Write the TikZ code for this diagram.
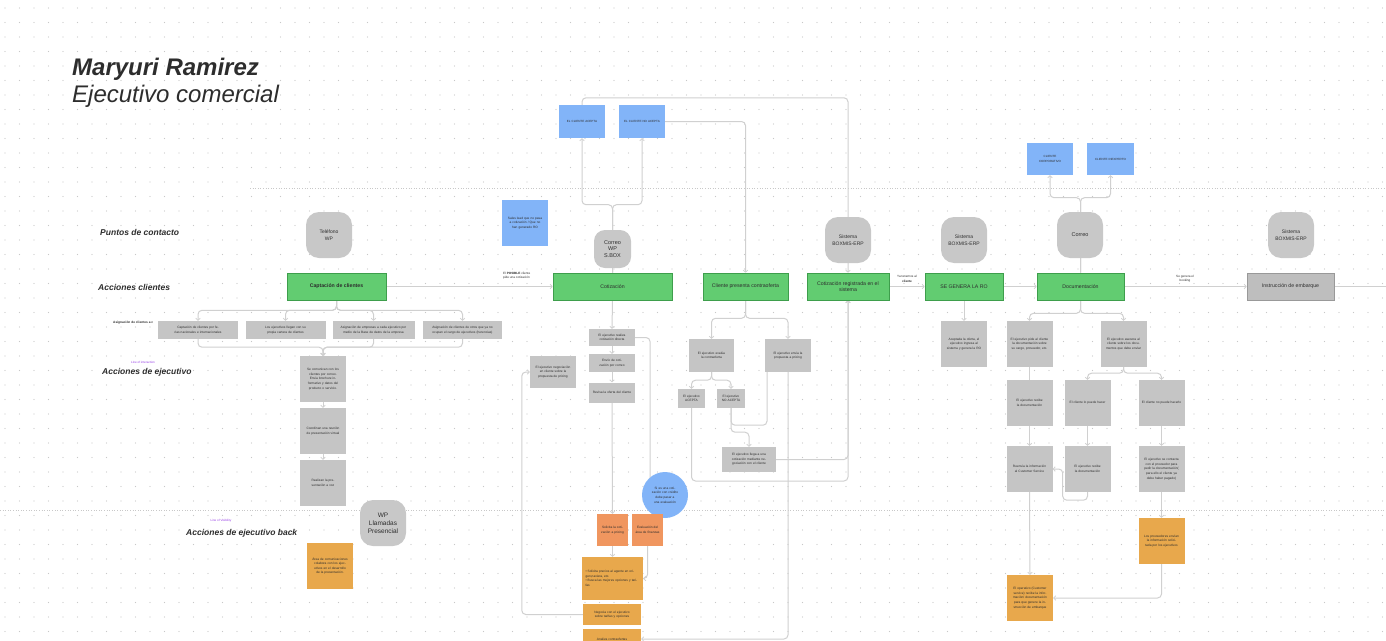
\documentclass[tikz,border=0pt]{standalone}
\usepackage{fontspec}
\setmainfont{Liberation Sans}
\usetikzlibrary{arrows.meta}
\pgfdeclarelayer{gridlayer}
\pgfdeclarelayer{linelayer}
\pgfsetlayers{gridlayer,linelayer,main}
\definecolor{boxgray}{RGB}{197,197,197}
\definecolor{roundgray}{RGB}{200,200,200}
\definecolor{instgray}{RGB}{190,190,190}
\definecolor{boxgreen}{RGB}{98,204,113}
\definecolor{greenborder}{RGB}{62,158,76}
\definecolor{boxblue}{RGB}{130,180,248}
\definecolor{boxorange}{RGB}{232,168,76}
\definecolor{boxsalmon}{RGB}{240,150,95}
\definecolor{linec}{RGB}{208,208,208}
\definecolor{dotc}{RGB}{200,200,200}
\definecolor{txt}{RGB}{45,45,45}
\definecolor{lblpurple}{RGB}{150,60,230}
\newcommand{\myfs}[2]{\fontsize{#1}{#2}\selectfont}
\tikzset{
  base/.style={inner sep=1pt, align=center, text=txt},
  gbox/.style={base, fill=boxgray, minimum width=46pt, minimum height=46pt, text width=40pt, font=\myfs{3.2}{4.6}},
  obox/.style={gbox, fill=boxorange},
  sbox/.style={gbox, fill=boxsalmon},
  bbox/.style={gbox, fill=boxblue},
  rbox/.style={base, fill=roundgray, rounded corners=13pt, minimum width=46pt, minimum height=46pt, font=\myfs{5}{6.5}},
  gnode/.style={base, fill=boxgreen, draw=greenborder, line width=0.6pt, minimum height=27pt, font=\myfs{5.2}{6.5}},
  rowlbl/.style={anchor=west, inner sep=0pt, text=txt, font=\myfs{8.5}{10}\bfseries\itshape},
  purplbl/.style={inner sep=0pt, text=lblpurple, font=\myfs{3}{4}},
  edgelbl/.style={inner sep=0pt, align=center, text=txt, font=\myfs{3.1}{4.3}},
  conn/.style={draw=linec, line width=1pt, rounded corners=4pt},
  arr/.style={conn, -{Straight Barb[length=2pt,width=4.5pt,line width=0.8pt]}},
  sepline/.style={draw=dotc, line width=0.6pt, dotted}
}
\begin{document}
\begin{tikzpicture}[x=1pt,y=-1pt]
\useasboundingbox (0,0) rectangle (1386,640);
\begin{pgfonlayer}{gridlayer}
\fill[white] (0,0) rectangle (1386,640);
\foreach \i in {0,...,95} \foreach \j in {0,...,43} \fill[dotc] (5+\i*14.5, 8+\j*14.5) circle (0.55pt);
\draw[sepline] (250,188) -- (1386,188);
\draw[sepline] (0,510) -- (1386,510);
\end{pgfonlayer}

% titles
\node[anchor=base west, inner sep=0pt, text=txt, font=\myfs{24}{28}\bfseries\itshape] (title) at (72,75) {Maryuri Ramirez};
\node[anchor=base west, inner sep=0pt, text=txt, font=\myfs{24}{28}\itshape] (subtitle) at (72,102) {Ejecutivo comercial};

% row labels
\node[rowlbl] (lp) at (100,232) {Puntos de contacto};
\node[rowlbl] (lc) at (98,287) {Acciones clientes};
\node[purplbl] (li) at (143,362) {Line of interaction};
\node[rowlbl] (le) at (102,372) {Acciones de ejecutivo};
\node[purplbl] (lv) at (221,521) {Line of Visibility};
\node[rowlbl] (lb) at (186,533) {Acciones de ejecutivo back};
\node[anchor=west, inner sep=0pt, text=txt, font=\myfs{3.2}{4}\bfseries] (lasig) at (113,323) {Asignación de clientes a c};

% left section
\node[rbox] (tel) at (329,235) {Teléfono\\WP};
\node[gnode, minimum width=99pt, font=\myfs{5.2}{6.5}\bfseries] (capt) at (336.5,286.5) {Captación de clientes};
\node[gbox, minimum width=80pt, minimum height=18pt, text width=74pt] (a1) at (198,330) {Captación de clientes por ferias nacionales e internacionales};
\node[gbox, minimum width=80pt, minimum height=18pt, text width=74pt] (a2) at (285.5,330) {Los ejecutivos llegan con su propia cartera de clientes};
\node[gbox, minimum width=82pt, minimum height=18pt, text width=76pt] (a3) at (373.5,330) {Asignación de empresas a cada ejecutivo por medio de la Base de datos de la empresa};
\node[gbox, minimum width=79pt, minimum height=18pt, text width=74pt] (a4) at (462.5,330) {Asignación de clientes de otros que ya no ocupan el cargo de ejecutivos (herencias)};
\node[gbox] (e1) at (323,379) {Se comunican con los clientes por correo. Envía brochure informativo y datos del producto o servicio.};
\node[gbox] (e2) at (323,431) {Coordinan una reunión de presentación virtual};
\node[gbox] (e3) at (323,483) {Realizan la presentación a voz};
\node[rbox, font=\myfs{6.5}{8}] (wp) at (383,523) {WP\\Llamadas\\Presencial};
\node[obox] (back1) at (330,566) {Área de comunicaciones colabora con los ejecutivos en el desarrollo de la presentación.};

% middle section
\node[bbox] (sales) at (525,223) {Sales lead que no pasa a cotización / Que no han generado RO};
\node[bbox, minimum height=33pt, font=\myfs{3}{4.4}] (acepta) at (582,121.5) {EL CLIENTE ACEPTA};
\node[bbox, minimum height=33pt, font=\myfs{3}{4.4}] (noacepta) at (642,121.5) {EL CLIENTE NO ACEPTA};
\node[rbox, minimum width=37pt, minimum height=38pt, rounded corners=11pt, font=\myfs{5.5}{6.8}] (correo1) at (612.5,249) {Correo\\WP\\S.BOX};
\node[gnode, minimum width=119pt] (cot) at (612.5,286.5) {Cotización};
\node[gnode, minimum width=85pt] (contra) at (745.5,286.5) {Cliente presenta contraoferta};
\node[edgelbl, anchor=west, align=left] (lposible) at (503,276) {El \textbf{POSIBLE} cliente\\pide una cotización};
\node[gbox, minimum height=17pt] (r1) at (612,337.5) {El ejecutivo realiza cotización directa};
\node[gbox, minimum height=18pt] (r2) at (612,363) {Envío de cotización por correo};
\node[gbox, minimum height=20pt] (r3) at (612,392.5) {Revisa la oferta del cliente};
\node[gbox, minimum height=32pt] (neg) at (553,372) {El ejecutivo negociación en cliente sobre la propuesta de pricing};
\node[base, circle, fill=boxblue, minimum size=46pt, text width=30pt, font=\myfs{3.2}{4.6}] (circ) at (665,495) {Si es una cotización con crédito debe pasar a una evaluación};
\node[sbox, minimum width=31pt, minimum height=32pt, text width=27pt] (sol) at (612.5,530) {Solicita la cotización a pricing};
\node[sbox, minimum width=31pt, minimum height=32pt, text width=27pt] (eva) at (647.5,530) {Evaluación del área de finanzas};
\node[obox, minimum width=61pt, minimum height=43pt, text width=54pt, align=left] (big) at (612.5,578.5) {\textbullet\ Solicita precios al agente en origen,naviera, etc.\\ \textbullet\ Busca las mejores opciones y tarifas};
\node[obox, minimum width=58pt, minimum height=21pt, text width=52pt] (negocia) at (612,614.5) {Negocia con el ejecutivo sobre tarifas y opciones};
\node[obox, minimum width=58pt, minimum height=20pt, text width=52pt] (analiza) at (612,639) {Analiza contraofertas};
\node[gbox, minimum width=45pt, minimum height=33pt] (ev) at (711.5,355.5) {El ejecutivo evalúa la contraoferta};
\node[gbox, minimum height=33pt] (envia) at (788,355.5) {El ejecutivo envía la propuesta a pricing};
\node[gbox, minimum width=27pt, minimum height=19pt, text width=24pt] (acep2) at (691.5,398.5) {El ejecutivo ACEPTA};
\node[gbox, minimum width=28pt, minimum height=19pt, text width=25pt] (noacep2) at (731,398.5) {El ejecutivo NO ACEPTA};
\node[gbox, minimum width=54pt, minimum height=25pt, text width=48pt] (llega) at (749,459.5) {El ejecutivo llega a una cotización mediante negociación con el cliente};

% right section
\node[rbox] (sis1) at (848,240) {Sistema\\BOXMIS-ERP};
\node[gnode, minimum width=82pt] (creg) at (848,286.5) {Cotización registrada en el\\sistema};
\node[edgelbl] (ltenemos) at (907,279) {Ya tenemos al\\\textbf{cliente}};
\node[rbox] (sis2) at (964,240) {Sistema\\BOXMIS-ERP};
\node[gnode, minimum width=78pt] (ro) at (964,286.5) {SE GENERA LA RO};
\node[gbox] (acept) at (964,344) {Aceptada la oferta, el ejecutivo ingresa al sistema y genera la RO};
\node[rbox, font=\myfs{5.5}{6.5}] (correo2) at (1080,235) {Correo};
\node[gnode, minimum width=87pt] (doc) at (1080.5,286.5) {Documentación};
\node[bbox, minimum height=32pt, font=\myfs{3}{4.4}] (corp) at (1050,159) {CLIENTE\\CORPORATIVO};
\node[bbox, minimum width=47pt, minimum height=32pt, font=\myfs{3}{4.4}] (inexp) at (1110.5,159) {CLIENTE INEXPERTO};
\node[edgelbl] (lbooking) at (1185,279) {Se genera el\\booking};
\node[rbox] (sis3) at (1291,235) {Sistema\\BOXMIS-ERP};
\node[base, fill=instgray, draw=gray!80, line width=0.6pt, minimum width=87pt, minimum height=27pt, font=\myfs{5.2}{6.5}] (inst) at (1290.5,286.5) {Instrucción de embarque};
\coordinate (instout) at (1386,286.5);
\node[gbox] (d1) at (1029.5,344) {El ejecutivo pide al cliente la documentación sobre su cargo, proveedor, etc.};
\node[gbox] (d2) at (1123.5,344) {El ejecutivo asesora al cliente sobre los documentos que debe enviar};
\node[gbox] (d3) at (1029.5,403) {El ejecutivo recibe la documentación};
\node[gbox] (d4) at (1087.5,403) {El cliente lo puede hacer};
\node[gbox] (d5) at (1161.5,403) {El cliente no puede hacerlo};
\node[gbox] (d6) at (1029.5,469) {Reenvía la información al Customer Service};
\node[gbox] (d7) at (1087.5,469) {El ejecutivo recibe la documentación};
\node[gbox] (d8) at (1161.5,469) {El ejecutivo se contacta con el proveedor para pedir la documentación( para ello el cliente ya debe haber pagado)};
\node[obox] (o1) at (1161.5,541) {Los proveedores envían la información solicitada por los ejecutivos};
\node[obox] (o2) at (1030,598) {El operativo (Customer service) recibe la información/ documentación para que genere la instrucción de embarque};

\coordinate (cin) at (650,478);
\coordinate (cj) at (848,481);

\begin{pgfonlayer}{linelayer}
% left
\foreach \n in {a1,a2,a3,a4} \draw[arr] (capt.south) -- ++(0,10) -| (\n.north);
\foreach \n in {a1,a3,a4} \draw[arr] (\n.south) -- ++(0,8) -| (e1.north);
\draw[arr] (e1) -- (e2);
\draw[arr] (e2) -- (e3);
\draw[arr] (capt.east) -- (cot.west);
% cotizacion
\draw[arr] (cot.north) -- ++(0,-68) -| (acepta.south);
\draw[arr] (cot.north) -- ++(0,-68) -| (noacepta.south);
\draw[arr] (acepta.north) -- ++(0,-7) -| (creg.north);
\draw[arr] (noacepta.east) -| (contra.north);
\draw[arr] (cot.south) -- (r1.north);
\draw[arr] (r1) -- (r2);
\draw[arr] (r2) -- (r3);
\draw[arr] (r3.south) -- (sol.north);
\draw[conn] (r1.east) -| (cin);
\draw[arr] (eva.south) |- (big.east);
\draw[arr] (sol.south) -- (big.north);
\draw[arr] (negocia.west) -- ++(-61,0) |- (neg.west);
% contraoferta
\draw[arr] (contra.south) -- ++(0,18) -| (ev.north);
\draw[arr] (contra.south) -- ++(0,18) -| (envia.north);
\draw[arr] (ev.south) -- ++(0,8) -| (acep2.north);
\draw[arr] (ev.south) -- ++(0,8) -| (noacep2.north);
\draw[arr] (noacep2.south) -- ++(0,24) -| (llega.north);
\draw[conn] ([xshift=-21pt]envia.south) |- ([yshift=-17pt]noacep2.south) -- (noacep2.south);
\draw[arr] (envia.south) |- (analiza.east);
\draw[arr] (acep2.south) |- (cj) -- (creg.south);
\draw[arr] (llega.east) -| (creg.south);
% right
\draw[arr] (creg.east) -- (ro.west);
\draw[arr] (ro.east) -- (doc.west);
\draw[arr] (ro.south) -- (acept.north);
\draw[arr] (doc.north) -- ++(0,-75) -| (corp.south);
\draw[arr] (doc.north) -- ++(0,-75) -| (inexp.south);
\draw[arr] (doc.east) -- (inst.west);
\draw[conn] (inst.east) -- (instout);
\draw[arr] (doc.south) -- ++(0,13) -| (d1.north);
\draw[arr] (doc.south) -- ++(0,13) -| (d2.north);
\draw[conn] (d1) -- (d3);
\draw[arr] (d2.south) -- ++(0,6) -| (d4.north);
\draw[arr] (d2.south) -- ++(0,6) -| (d5.north);
\draw[arr] (d3) -- (d6);
\draw[arr] (d4) -- (d7);
\draw[arr] (d5) -- (d8);
\draw[arr] (d7.south) -- ++(0,8) -| ([xshift=10pt]d6.east) -- (d6.east);
\draw[arr] (d6.south) -- (o2.north);
\draw[arr] (d8.south) -- (o1.north);
\draw[arr] (o1.south) |- (o2.east);
\end{pgfonlayer}
\end{tikzpicture}
\end{document}
